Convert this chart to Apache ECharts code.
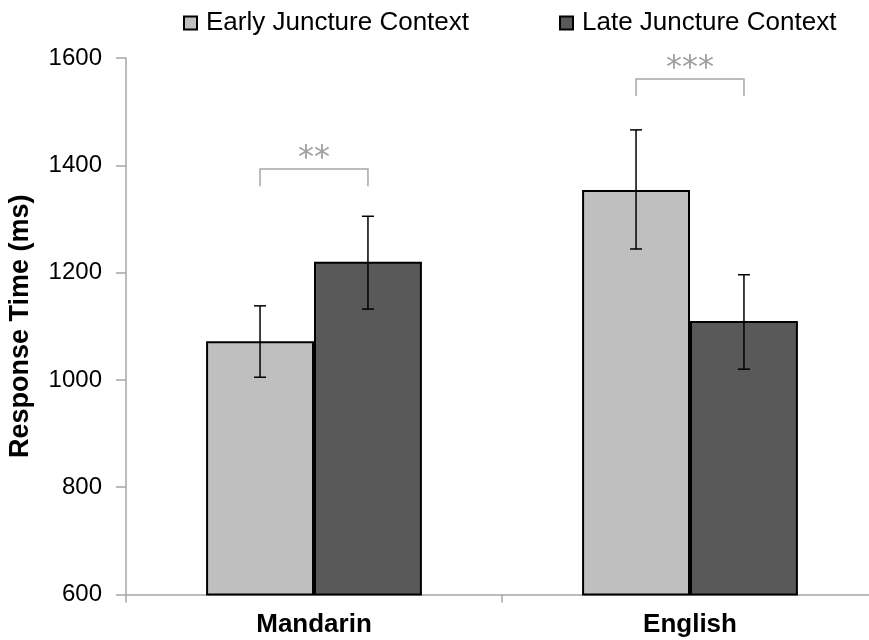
<!DOCTYPE html>
<html>
<head>
<meta charset="utf-8">
<script src="https://cdn.jsdelivr.net/npm/echarts@6/dist/echarts.min.js"></script>
<style>html,body{margin:0;padding:0;background:#fff;}#c{width:869px;height:640px;}</style>
</head>
<body>
<div id="c"></div>
<script>
const categories = ['Mandarin', 'English'];
const seriesNames = ['Early Juncture Context', 'Late Juncture Context'];
const earlyMeans = [1072, 1354];
const lateMeans = [1220, 1110];
const earlyErrLow = [1005, 1244];
const earlyErrHigh = [1138, 1466];
const lateErrLow = [1132, 1020];
const lateErrHigh = [1305, 1196];
const sigLabels = ['**', '***'];
const bracketTop = [1393, 1561];
const bracketBottom = [1361, 1529];
const yTicks = [600, 800, 1000, 1200, 1400, 1600];

const BAR_FRAC = 0.287;
const FONT = 'Liberation Sans, Arial, sans-serif';

function errItem(sign) {
  return function (params, api) {
    const band = api.size([1, 0])[0];
    const off = sign * band * BAR_FRAC / 2;
    const lo = api.coord([api.value(0), api.value(1)]);
    const hi = api.coord([api.value(0), api.value(2)]);
    const x = lo[0] + off;
    const cap = 6;
    const style = { stroke: '#000', lineWidth: 1.5 };
    return {
      type: 'group',
      children: [
        { type: 'line', shape: { x1: x, y1: hi[1], x2: x, y2: lo[1] }, style: style },
        { type: 'line', shape: { x1: x - cap, y1: hi[1], x2: x + cap, y2: hi[1] }, style: style },
        { type: 'line', shape: { x1: x - cap, y1: lo[1], x2: x + cap, y2: lo[1] }, style: style }
      ]
    };
  };
}

function bracketItem(params, api) {
  const band = api.size([1, 0])[0];
  const off = band * BAR_FRAC / 2;
  const top = api.coord([api.value(0), api.value(1)]);
  const bot = api.coord([api.value(0), api.value(2)]);
  const xl = top[0] - off, xr = top[0] + off;
  return {
    type: 'group',
    children: [
      { type: 'polyline', shape: { points: [[xl, bot[1]], [xl, top[1]], [xr, top[1]], [xr, bot[1]]] },
        style: { stroke: '#a6a6a6', lineWidth: 1.5, fill: null } },
      { type: 'text', style: { text: sigLabels[params.dataIndex], x: top[0], y: top[1] + 6,
        align: 'center', verticalAlign: 'bottom', fill: '#a0a0a0', font: '32px DejaVu Sans' } }
    ]
  };
}

const chart = echarts.init(document.getElementById('c'), null, { renderer: 'canvas' });
chart.setOption({
  animation: false,
  backgroundColor: '#fff',
  grid: { left: 126, top: 58, width: 752, height: 536.5, containLabel: false, outerBoundsMode: 'none' },
  legend: {
    data: seriesNames,
    left: 183, top: 10, padding: 0,
    icon: 'rect', itemWidth: 13, itemHeight: 13, itemGap: 90,
    textStyle: { fontSize: 26, color: '#000', fontFamily: FONT, padding: [0, 0, 0, 4] }
  },
  xAxis: {
    type: 'category',
    data: categories,
    axisLine: { lineStyle: { color: '#a6a6a6', width: 1.5 } },
    axisTick: { show: true, length: 8, interval: 0, lineStyle: { color: '#a6a6a6', width: 1.5 } },
    axisLabel: { fontSize: 26, fontWeight: 'bold', color: '#000', fontFamily: FONT, margin: 17 },
    splitLine: { show: false }
  },
  yAxis: {
    type: 'value',
    min: 600, max: 1600, interval: 200,
    name: 'Response Time (ms)',
    nameLocation: 'middle',
    nameGap: 92,
    nameTextStyle: { fontSize: 27, fontWeight: 'bold', color: '#000', fontFamily: FONT },
    axisLine: { show: true, lineStyle: { color: '#a6a6a6', width: 1.5 } },
    axisTick: { show: true, length: 10, lineStyle: { color: '#a6a6a6', width: 1.5 } },
    axisLabel: { fontSize: 24, color: '#000', fontFamily: FONT, margin: 24,
      formatter: function (v) { return yTicks.indexOf(v) >= 0 ? String(v) : ''; } },
    splitLine: { show: false }
  },
  series: [
    {
      name: seriesNames[0], type: 'bar', data: earlyMeans,
      barWidth: (BAR_FRAC * 100) + '%', barGap: '0%',
      itemStyle: { color: '#bfbfbf', borderColor: '#000', borderWidth: 2 }
    },
    {
      name: seriesNames[1], type: 'bar', data: lateMeans,
      barWidth: (BAR_FRAC * 100) + '%', barGap: '0%',
      itemStyle: { color: '#595959', borderColor: '#000', borderWidth: 2 }
    },
    {
      type: 'custom', renderItem: errItem(-1), z: 5,
      data: categories.map((c, i) => [i, earlyErrLow[i], earlyErrHigh[i]]),
      encode: { x: 0, y: [1, 2] }, silent: true
    },
    {
      type: 'custom', renderItem: errItem(1), z: 5,
      data: categories.map((c, i) => [i, lateErrLow[i], lateErrHigh[i]]),
      encode: { x: 0, y: [1, 2] }, silent: true
    },
    {
      type: 'custom', renderItem: bracketItem, z: 5,
      data: categories.map((c, i) => [i, bracketTop[i], bracketBottom[i]]),
      encode: { x: 0, y: [1, 2] }, silent: true
    }
  ]
});
</script>
</body>
</html>
